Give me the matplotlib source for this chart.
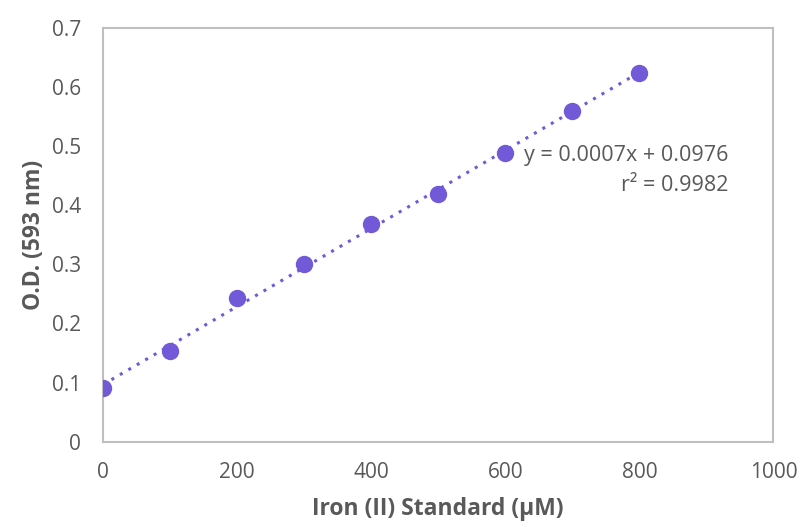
import numpy as np
import matplotlib.pyplot as plt

plt.rcParams['font.family'] = ['Open Sans', 'DejaVu Sans']

# standard curve
conc = [0, 100, 200, 300, 400, 500, 600, 700, 800]
od = [0.090, 0.154, 0.243, 0.300, 0.368, 0.419, 0.489, 0.560, 0.623]
xticks = [0, 200, 400, 600, 800, 1000]
yticks = [0, 0.1, 0.2, 0.3, 0.4, 0.5, 0.6, 0.7]
ytick_labels = ["0", "0.1", "0.2", "0.3", "0.4", "0.5", "0.6", "0.7"]
eq_text = "y = 0.0007x + 0.0976"
r2_text = "r² = 0.9982"

col = "#7159D8"
grey = "#595959"

fig = plt.figure(figsize=(8.01, 5.27), dpi=100)
ax = fig.add_axes([0.1286, 0.162, 0.837, 0.785])

# trendline
k, b = np.polyfit(conc, od, 1)
xx = np.array([conc[0], conc[-1]])
ax.plot(xx, k * xx + b, color=col, linestyle=(0, (1, 2.2)), linewidth=2.2, zorder=2)
ax.plot(conc, od, "o", color=col, markersize=11.5, zorder=3)

ax.set_xlim(0, 1000)
ax.set_ylim(0, 0.7)
ax.set_xticks(xticks)
ax.set_yticks(yticks)
ax.set_yticklabels(ytick_labels)
ax.tick_params(length=0, labelsize=15, colors=grey)
ax.tick_params(axis="x", pad=15)
ax.tick_params(axis="y", pad=16)
for s in ax.spines.values():
    s.set_color("#BFBFBF")
    s.set_linewidth(1.5)

ax.set_xlabel("Iron (II) Standard (µM)", fontsize=16.5, fontweight="bold", color=grey, labelpad=10)
ax.set_ylabel("O.D. (593 nm)", fontsize=16.5, fontweight="bold", color=grey, labelpad=4)

ax.text(933, 0.484, eq_text, ha="right", va="center", fontsize=15.5, color=grey)
ax.text(933, 0.433, r2_text, ha="right", va="center", fontsize=15.5, color=grey)

fig.savefig("out.png", dpi=100)
